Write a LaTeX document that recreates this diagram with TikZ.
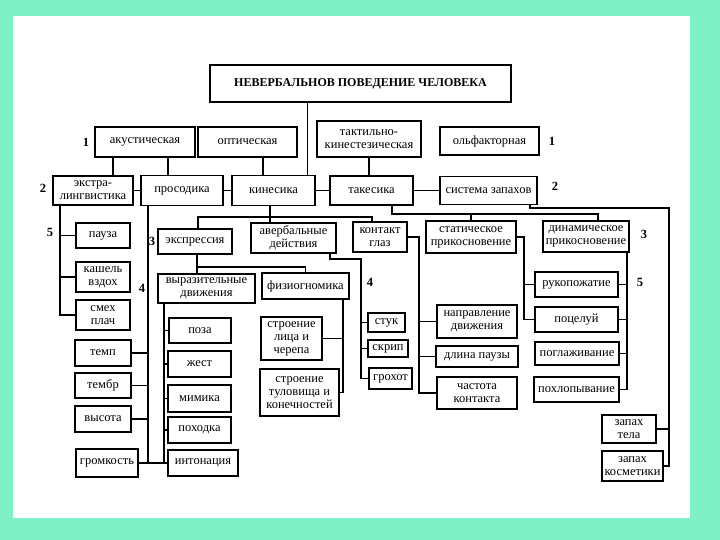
\documentclass[tikz,border=0pt]{standalone}
\usepackage{fontspec}
\setmainfont{Liberation Serif}
\definecolor{mint}{RGB}{126,242,198}
\newcommand\bxfont{\fontsize{12.5}{13}\selectfont}
\tikzset{
  box/.style={draw, line width=1.1pt, fill=white, align=center, inner sep=0.5pt, font=\bxfont},
  sz/.style 2 args={minimum width=#1pt, minimum height=#2pt},
  num/.style={font=\bfseries\fontsize{12.5}{12.5}\selectfont, inner sep=0pt},
  link/.style={line width=1.1pt},
}
\begin{document}
\begin{tikzpicture}[x=1pt, y=-1pt]
\fill[mint] (0,0) rectangle (720,540);
\fill[white] (13,16) rectangle (690,518);
% title and channels
\node[box, sz={301}{37}, font=\bfseries\fontsize{12}{14}\selectfont] (title) at (360.5,83.5) {НЕВЕРБАЛЬНОВ ПОВЕДЕНИЕ ЧЕЛОВЕКА};
\node[box, sz={100}{30}] (akust) at (145,142) {акустическая};
\node[box, sz={99}{30}] (optic) at (247.5,142) {оптическая};
\node[box, sz={104}{36}] (takt) at (369,139) {тактильно-\\кинестезическая};
\node[box, sz={99}{28}] (olf) at (489.5,141) {ольфакторная};
% systems
\node[box, sz={80}{29}] (extra) at (93,190.5) {экстра-\\лингвистика};
\node[box, sz={82}{30}] (prosod) at (182,190.5) {просодика};
\node[box, sz={83}{30}] (kines) at (273.5,190.5) {кинесика};
\node[box, sz={83}{29}] (takes) at (371.5,190.5) {такесика};
\node[box, sz={97}{28}] (sist) at (488.5,190.5) {система запахов};
\node[box, sz={74}{25}] (expr) at (195,241.5) {экспрессия};
\node[box, sz={85}{30}] (averb) at (293.5,238) {авербальные\\действия};
\node[box, sz={54}{30}] (kontakt) at (380,237) {контакт\\глаз};
\node[box, sz={90}{32}] (stat) at (471,237) {статическое\\прикосновение};
\node[box, sz={86}{31}] (dinam) at (586,236.5) {динамическое\\прикосновение};
\node[box, sz={97}{29}] (vyraz) at (206.5,288.5) {выразительные\\движения};
\node[box, sz={87}{26}] (fiz) at (305.5,286) {физиогномика};
% left column
\node[box, sz={54}{25}] (pauza) at (103,235.5) {пауза};
\node[box, sz={54}{30}] (kashel) at (103,277) {кашель\\вздох};
\node[box, sz={54}{30}] (smeh) at (103,315) {смех\\плач};
\node[box, sz={56}{26}] (temp) at (103,353) {темп};
\node[box, sz={56}{25}] (tembr) at (103,385.5) {тембр};
\node[box, sz={56}{26}] (vysota) at (103,419) {высота};
\node[box, sz={62}{28}] (gromk) at (107,463) {громкость};
% expressive movements
\node[box, sz={62}{25}] (poza) at (200,330.5) {поза};
\node[box, sz={63}{26}] (zhest) at (199.5,364) {жест};
\node[box, sz={63}{27}] (mimika) at (199.5,398.5) {мимика};
\node[box, sz={63}{26}] (pohodka) at (199.5,430) {походка};
\node[box, sz={70}{26}] (inton) at (203,463) {интонация};
\node[box, sz={61}{43}] (litsa) at (291.5,338.5) {строение\\лица и\\черепа};
\node[box, sz={79}{47}] (tulov) at (299.5,392.5) {строение\\туловища и\\конечностей};
\node[box, sz={37}{19}] (stuk) at (386.5,322.5) {стук};
\node[box, sz={40}{17}] (skrip) at (388,348.5) {скрип};
\node[box, sz={43}{21}] (grohot) at (390.5,378.5) {грохот};
% touch
\node[box, sz={80}{33}] (napr) at (477,321.5) {направление\\движения};
\node[box, sz={82}{21}] (dlina) at (477,356.5) {длина паузы};
\node[box, sz={80}{32}] (chastota) at (477,393) {частота\\контакта};
\node[box, sz={83}{25}] (ruko) at (576.5,284.5) {рукопожатие};
\node[box, sz={83}{25}] (poceluy) at (576.5,319.5) {поцелуй};
\node[box, sz={84}{23}] (poglazh) at (577,353.5) {поглаживание};
\node[box, sz={85}{25}] (pohlop) at (576.5,389.5) {похлопывание};
\node[box, sz={54}{28}] (zaptela) at (629,429) {запах\\тела};
\node[box, sz={61}{30}] (zapkosm) at (632.5,466) {запах\\косметики};
% level numbers
\node[num] (n1l) at (86,142) {1};
\node[num] (n1r) at (552,141) {1};
\node[num] (n2l) at (43,188) {2};
\node[num] (n2r) at (555,186) {2};
\node[num] (n5l) at (50,232) {5};
\node[num] (n3l) at (152,241) {3};
\node[num] (n4l) at (142,288) {4};
\node[num] (n4m) at (370,282) {4};
\node[num] (n3r) at (644,234) {3};
\node[num] (n5r) at (640,282) {5};
% channels to systems
\draw[thin] ([xshift=-53.5pt]title.south) -- ([xshift=33.5pt]kines.north);
\draw[link] ([xshift=-32pt]akust.south) -- ([xshift=20pt]extra.north);
\draw[link] ([xshift=23pt]akust.south) -- ([xshift=-14pt]prosod.north);
\draw[link] ([xshift=15.5pt]optic.south) -- ([xshift=-10.5pt]kines.north);
\draw[link] (takt.south) -- (takt.south |- takes.north);
\draw[link] (extra.east) -- (prosod.west);
\draw[link] (prosod.east) -- (kines.west);
\draw[link] (kines.east) -- (takes.west);
\draw[link] (takes.east) -- (sist.west);
% kinesics
\coordinate (kb) at (270,217);
\draw[link] ([xshift=-3.5pt]kines.south) -- ([xshift=-23.5pt]averb.north);
\draw[link] ([xshift=3pt]expr.north) |- (kb) -| ([xshift=-8pt]kontakt.north);
% takesics
\coordinate (tb) at (471,214);
\draw[link] ([xshift=20.5pt]takes.south) |- (tb) -| ([xshift=12pt]dinam.north);
\draw[link] (tb) -- (stat.north);
% smells
\coordinate (sb) at (669,208);
\draw[link] ([xshift=41.5pt]sist.south) |- (sb) |- (zapkosm.east);
\draw[link] (zaptela.east) -- (zaptela.east -| sb);
% extralinguistics
\coordinate (eb) at ([xshift=-33pt]extra.south);
\draw[link] (eb) |- (smeh.west);
\foreach \n in {pauza,kashel} \draw[link] (\n.west) -- (\n.west -| eb);
% prosody
\coordinate (pb) at ([xshift=-34pt]prosod.south);
\draw[link] (pb) -- (pb |- gromk.east);
\draw[link] (gromk.east) -- (inton.west);
\foreach \n in {temp,tembr,vysota} \draw[link] (\n.east) -- (\n.east -| pb);
% expression
\coordinate (xb) at (197,267);
\draw[link] ([xshift=2pt]expr.south) -- ([xshift=-9.5pt]vyraz.north);
\draw[link] (xb) -| (fiz.north);
\coordinate (vb) at ([xshift=-42.5pt]vyraz.south);
\draw[link] (vb) |- (inton.west);
\foreach \n in {poza,zhest,mimika,pohodka} \draw[link] (\n.west) -- (\n.west -| vb);
\coordinate (fb) at ([xshift=37.5pt]fiz.south);
\draw[link] (fb) |- (tulov.east);
\draw[link] (litsa.east) -- (litsa.east -| fb);
% averbal actions
\coordinate (ab) at (361,259);
\draw[link] ([xshift=36.5pt]averb.south) |- (ab) |- (grohot.west);
\foreach \n in {stuk,skrip} \draw[link] (\n.west) -- (\n.west -| ab);
% eye contact
\coordinate (cb) at (419,237);
\draw[link] (kontakt.east) -- (cb) |- (chastota.west);
\foreach \n in {napr,dlina} \draw[link] (\n.west) -- (\n.west -| cb);
% touch
\coordinate (stb) at (524,237);
\draw[link] (stat.east) -- (stb) |- (poceluy.west);
\draw[link] (ruko.west) -- (ruko.west -| stb);
\coordinate (db) at ([xshift=41pt]dinam.south);
\draw[link] (db) |- (pohlop.east);
\foreach \n in {ruko,poceluy,poglazh} \draw[link] (\n.east) -- (\n.east -| db);
\end{tikzpicture}
\end{document}
